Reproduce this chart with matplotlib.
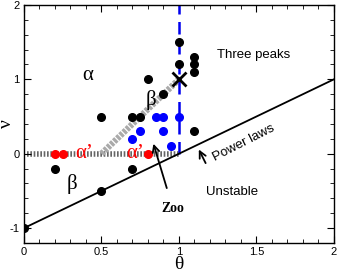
import matplotlib
matplotlib.use("Agg")
import matplotlib.pyplot as plt
import numpy as np

# Data
black_theta = [0.5, 0.7, 0.75, 0.8, 0.9, 1.0, 1.0, 1.1, 1.1, 1.1, 1.1, 0.2, 0.7, 0.5, 0.0]
black_nu    = [0.5, 0.5, 0.5, 1.0, 0.8, 1.5, 1.2, 1.3, 1.2, 1.1, 0.3, -0.2, -0.2, -0.5, -1.0]
blue_theta = [0.85, 0.9, 1.0, 0.75, 0.9, 0.7, 0.95]
blue_nu    = [0.5, 0.5, 0.5, 0.3, 0.3, 0.2, 0.1]
red_theta = [0.2, 0.25, 0.8]
red_nu    = [0.0, 0.0, 0.0]
power_theta = [0.0, 2.0]
power_nu    = [-1.0, 1.0]
vline_theta = [1.0, 1.0]
vline_nu    = [0.0, 2.0]
hatch0_theta = [0.02, 1.0]
hatch0_nu    = [0.0, 0.0]
band_theta = [0.5, 1.0]
band_nu    = [0.0, 1.0]
cross_theta = [1.0]
cross_nu    = [1.0]

plt.rcParams['font.family'] = ['Liberation Sans', 'DejaVu Sans']

fig = plt.figure(figsize=(3.38, 2.73), dpi=100)
ax = fig.add_axes([0.071, 0.110, 0.917, 0.872])

ax.plot(hatch0_theta, hatch0_nu, color='#666666', lw=4, dashes=(0.3, 0.3), solid_capstyle='butt', zorder=1)
ax.plot(band_theta, band_nu, color='#aaaaaa', lw=4.5, dashes=(0.5, 0.2), solid_capstyle='butt', zorder=1)
ax.plot(vline_theta, vline_nu, color='#0000ee', lw=1.8, dashes=(5, 3), zorder=2)
ax.plot(power_theta, power_nu, color='black', lw=1.3, zorder=2)

ax.plot(black_theta, black_nu, 'o', color='black', ms=5.5, zorder=3)
ax.plot(blue_theta, blue_nu, 'o', color='#0000ff', ms=5.5, zorder=3)
ax.plot(red_theta, red_nu, 'o', color='#ff0000', ms=5.5, zorder=3)
ax.plot(cross_theta, cross_nu, 'x', color='black', ms=10, mew=2, zorder=4)

ax.set_xlim(0, 2)
ax.set_ylim(-1.2, 2)
ax.set_xticks([0, 0.5, 1, 1.5, 2])
ax.set_xticklabels(['0', '0.5', '1', '1.5', '2'])
ax.set_yticks([-1, 0, 1, 2])
ax.set_yticklabels(['-1', '0', '1', '2'])
ax.set_xticks(np.arange(0, 2.001, 0.1), minor=True)
ax.set_yticks(np.arange(-1.2, 2.001, 0.2), minor=True)
ax.tick_params(which='both', direction='in', top=True, right=True, labelsize=8, pad=3)
ax.tick_params(which='major', length=5, width=0.8)
ax.tick_params(which='minor', length=3, width=0.6)
for s in ax.spines.values():
    s.set_linewidth(1.0)

serif = ['Liberation Serif', 'DejaVu Serif']
ax.set_xlabel('θ', fontsize=14, family=serif, va='center')
ax.xaxis.set_label_coords(0.5, -0.09)
ax.set_ylabel('ν', fontsize=14, family=serif, va='center')
ax.yaxis.set_label_coords(-0.055, 0.5)

ax.text(0.41, 1.05, 'α', fontsize=15, family=serif, ha='center', va='center')
ax.text(0.82, 0.72, 'β', fontsize=15, family=serif, ha='center', va='center')
ax.text(0.31, -0.41, 'β', fontsize=15, family=serif, ha='center', va='center')
ax.text(0.39, 0.0, "α’", fontsize=15, family=serif, color='#ff0000', ha='center', va='center')
ax.text(0.72, 0.0, "α’", fontsize=15, family=serif, color='#ff0000', ha='center', va='center')
ax.text(1.48, 1.33, 'Three peaks', fontsize=9.5, ha='center', va='center')
ax.text(1.34, -0.52, 'Unstable', fontsize=9.5, ha='center', va='center')
ax.text(1.42, 0.14, 'Power laws', fontsize=9.5, ha='center', va='center', rotation=27)

ax.annotate('', xy=(1.12, 0.09), xytext=(1.18, -0.16),
            arrowprops=dict(arrowstyle='->', lw=1.3, color='black', mutation_scale=12))
ax.annotate('Zoo', xy=(0.83, 0.17), xytext=(0.96, -0.73), fontsize=10, family=serif,
            fontweight='bold', ha='center', va='center',
            arrowprops=dict(arrowstyle='->', lw=1.3, color='black', mutation_scale=12,
                            shrinkA=8))

fig.savefig('out.png', dpi=100)
